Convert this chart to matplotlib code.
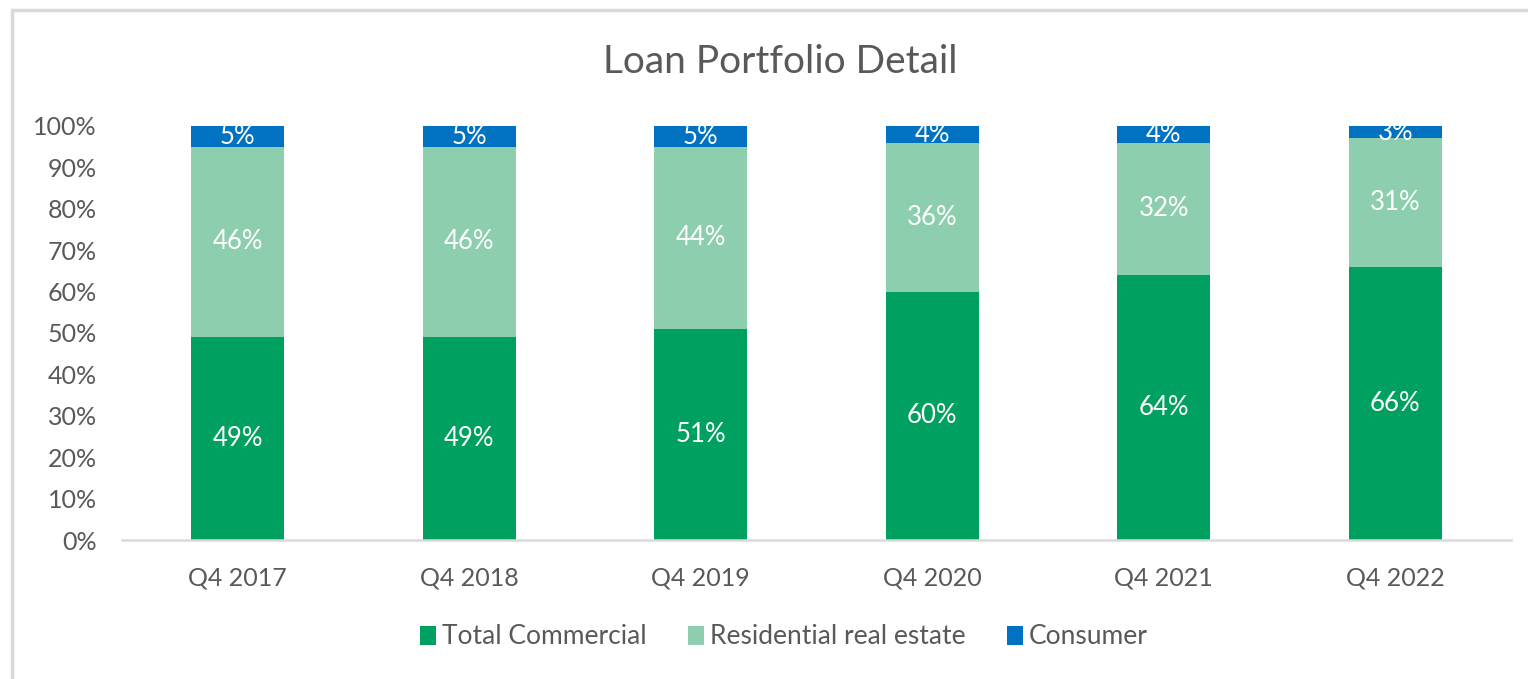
import numpy as np
import matplotlib
matplotlib.use("Agg")
import matplotlib.pyplot as plt
from matplotlib.patches import Rectangle

quarters = ["Q4 2017", "Q4 2018", "Q4 2019", "Q4 2020", "Q4 2021", "Q4 2022"]
commercial = [49, 49, 51, 60, 64, 66]
residential = [46, 46, 44, 36, 32, 31]
consumer = [5, 5, 5, 4, 4, 3]

series = [
    ("Total Commercial", commercial, "#00A160"),
    ("Residential real estate", residential, "#8CCEAE"),
    ("Consumer", consumer, "#0072C1"),
]

plt.rcParams["font.family"] = ["Lato", "DejaVu Sans"]
txt = "#595959"

fig = plt.figure(figsize=(15.28, 6.79), dpi=100)
# chart border
fig.patches.append(Rectangle((12 / 1528, -0.05), 1.2, 1 - 10 / 679 + 0.05,
                             transform=fig.transFigure, fill=False,
                             edgecolor="#D9D9D9", linewidth=2.5))

ax = fig.add_axes([122 / 1528, 1 - 540 / 679, (1511 - 122) / 1528, (540 - 126) / 679])
x = np.arange(len(quarters))
bottom = np.zeros(len(quarters))
for name, vals, col in series:
    vals = np.array(vals)
    ax.bar(x, vals, 0.4, bottom=bottom, color=col, label=name, zorder=2)
    for xi, b, v in zip(x, bottom, vals):
        ax.text(xi, b + v / 2, f"{v}%", ha="center", va="center",
                color="white", fontsize=18.5, zorder=3)
    bottom += vals

ax.set_xlim(-0.5, len(quarters) - 0.5)
ax.set_ylim(0, 100)
ax.set_yticks(range(0, 101, 10))
ax.set_yticklabels([f"{v}%" for v in range(0, 101, 10)])
ax.set_xticks(x)
ax.set_xticklabels(quarters)
ax.tick_params(axis="both", length=0, labelsize=18, colors=txt)
ax.tick_params(axis="y", pad=18)
ax.tick_params(axis="x", pad=19)
for s in ["top", "right", "left"]:
    ax.spines[s].set_visible(False)
ax.spines["bottom"].set_color("#D9D9D9")
ax.spines["bottom"].set_linewidth(1.8)

fig.text(780 / 1528, 1 - 62 / 679, "Loan Portfolio Detail", ha="center", va="center",
         fontsize=28, color=txt)

leg = fig.legend(loc="center", bbox_to_anchor=(784 / 1528, 1 - 637 / 679), ncol=3,
                 frameon=False, fontsize=19, handlelength=0.6, handleheight=0.7,
                 handletextpad=0.25, columnspacing=1.55)
for t in leg.get_texts():
    t.set_color(txt)

fig.savefig("out.png", dpi=100)
